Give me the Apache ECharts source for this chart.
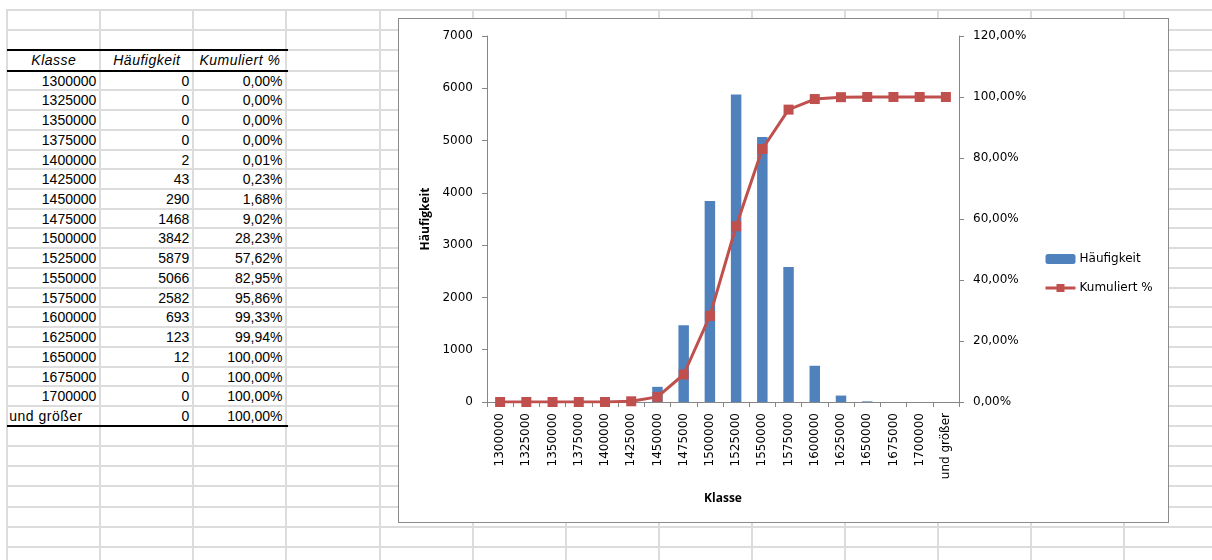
<!DOCTYPE html>
<html>
<head>
<meta charset="utf-8">
<title>Häufigkeitsverteilung</title>
<script src="https://cdn.jsdelivr.net/npm/echarts@6/dist/echarts.min.js"></script>
<style>
  html, body { margin: 0; padding: 0; background: #fff; }
  body { width: 1212px; height: 560px; overflow: hidden; position: relative; }
  #sheet { position: absolute; left: 0; top: 0; width: 1212px; height: 560px; }
  .hl { position: absolute; height: 2px; background: #dcdcdc; }
  .vl { position: absolute; width: 2px; background: #dcdcdc; }
  .thick { position: absolute; height: 2px; background: #000; }
  .cell { position: absolute; font-family: "Liberation Sans", Arial, sans-serif; font-size: 14px;
          color: #000; white-space: nowrap; box-sizing: border-box; }
  .head { font-style: italic; text-align: center; letter-spacing: 0.5px; }
  #chart { position: absolute; left: 398px; top: 18px; width: 769px; height: 503px;
           border: 1px solid #8a8a8a; background: #fff; }
</style>
</head>
<body>
<div id="sheet"></div>
<div id="chart"></div>
<script>
// Klassen, Häufigkeiten und kumulierte Anteile (in %)
const klassen = ['1300000', '1325000', '1350000', '1375000', '1400000', '1425000', '1450000',
  '1475000', '1500000', '1525000', '1550000', '1575000', '1600000', '1625000', '1650000',
  '1675000', '1700000', 'und größer'];
const haeufigkeit = [0, 0, 0, 0, 2, 43, 290, 1468, 3842, 5879, 5066, 2582, 693, 123, 12, 0, 0, 0];
const kumuliert = [0, 0, 0, 0, 0.01, 0.23, 1.68, 9.02, 28.23, 57.62, 82.95, 95.86, 99.33, 99.94,
  100, 100, 100, 100];
const kopfzeile = ['Klasse', 'Häufigkeit', 'Kumuliert %'];

// Achsenbereiche
const achseLinks = { min: 0, max: 7000, interval: 1000 };
const achseRechts = { min: 0, max: 120, interval: 20 };

const prozent = v => v.toFixed(2).replace('.', ',') + '%';

// --- Tabellenblatt: Gitterlinien ---
const sheet = document.getElementById('sheet');
function add(cls, css, text) {
  const d = document.createElement('div');
  d.className = cls;
  Object.assign(d.style, css);
  if (text !== undefined) d.textContent = text;
  sheet.appendChild(d);
  return d;
}
const colW = 93.05, col0 = 7.3;
const colX = [];
for (let k = 0; k < 14; k++) colX.push(col0 + k * colW);
const rowY = [10, 30, 50];
for (let j = 0; j <= 18; j++) rowY.push(70.6 + j * 19.73);
for (let j = 1; j <= 7; j++) rowY.push(425.7 + j * 20.2);

rowY.forEach(y => add('hl', { left: '6px', top: (Math.round(y) - 1) + 'px', width: '1206px' }));
colX.forEach(x => add('vl', { left: (Math.round(x) - 1) + 'px', top: '9px', height: '551px' }));

// --- Tabelle ---
const headTop = rowY[2], headH = rowY[3] - rowY[2];
kopfzeile.forEach((t, i) => {
  add('cell head', { left: colX[i] + 'px', width: colW + 'px', top: headTop + 'px',
    height: headH + 'px', lineHeight: (headH + 1) + 'px' }, t);
});
klassen.forEach((k, r) => {
  const top = rowY[3 + r], h = rowY[4 + r] - rowY[3 + r];
  const base = { top: top + 'px', height: h + 'px', lineHeight: (h + 2) + 'px' };
  const istText = isNaN(Number(k));
  add('cell', Object.assign({ left: colX[0] + 'px', width: colW + 'px',
    textAlign: istText ? 'left' : 'right', padding: istText ? '0 0 0 2px' : '0 4px 0 0',
    letterSpacing: istText ? '0.5px' : '0' }, base), k);
  add('cell', Object.assign({ left: colX[1] + 'px', width: colW + 'px', textAlign: 'right',
    padding: '0 4px 0 0' }, base), String(haeufigkeit[r]));
  add('cell', Object.assign({ left: colX[2] + 'px', width: colW + 'px', textAlign: 'right',
    padding: '0 4px 0 0' }, base), prozent(kumuliert[r]));
});
add('thick', { left: '7px', top: '49px', width: '281px' });
add('thick', { left: '7px', top: '70px', width: '281px' });
add('thick', { left: '7px', top: '425px', width: '281px' });

// --- Diagramm ---
const achsenGrau = '#868686';
const titelStil = { fontFamily: 'Open Sans', fontWeight: 'bold', fontSize: 12, color: '#000' };
const labelStil = { fontFamily: 'DejaVu Sans', fontSize: 12, color: '#000' };

const chart = echarts.init(document.getElementById('chart'), null, { renderer: 'canvas' });
chart.setOption({
  animation: false,
  textStyle: { fontFamily: 'DejaVu Sans' },
  grid: { left: 88, top: 17, width: 472, height: 366, containLabel: false },
  legend: {
    orient: 'vertical', left: 640, top: 229,
    itemWidth: 30, itemHeight: 10, itemGap: 17,
    textStyle: Object.assign({}, labelStil, { padding: [0, 0, 0, -1] }),
    data: [
      { name: 'Häufigkeit' },
      { name: 'Kumuliert %', lineStyle: { width: 3 }, itemStyle: { color: '#C0504D' } }
    ]
  },
  xAxis: {
    type: 'category', data: klassen, boundaryGap: true,
    name: 'Klasse', nameLocation: 'middle', nameGap: 91, nameTextStyle: titelStil,
    axisLine: { show: true, lineStyle: { color: achsenGrau, width: 1 } },
    axisTick: { show: true, length: 5, interval: 0, lineStyle: { color: achsenGrau } },
    axisLabel: Object.assign({ rotate: 90, margin: 11, interval: 0 }, labelStil),
    splitLine: { show: false }
  },
  yAxis: [
    {
      type: 'value', min: achseLinks.min, max: achseLinks.max, interval: achseLinks.interval,
      name: 'Häufigkeit', nameLocation: 'middle', nameGap: 40, nameRotate: 90,
      nameTextStyle: titelStil,
      axisLine: { show: true, lineStyle: { color: achsenGrau, width: 1 } },
      axisTick: { show: true, length: 5, lineStyle: { color: achsenGrau } },
      axisLabel: Object.assign({ margin: 14, formatter: v => String(v) }, labelStil),
      splitLine: { show: false }
    },
    {
      type: 'value', position: 'right',
      min: achseRechts.min, max: achseRechts.max, interval: achseRechts.interval,
      axisLine: { show: true, lineStyle: { color: achsenGrau, width: 1 } },
      axisTick: { show: true, length: 5, lineStyle: { color: achsenGrau } },
      axisLabel: Object.assign({ margin: 14, formatter: prozent }, labelStil),
      splitLine: { show: false }
    }
  ],
  series: [
    {
      name: 'Häufigkeit', type: 'bar', data: haeufigkeit, barWidth: '40%',
      itemStyle: { color: '#4F81BD' }
    },
    {
      name: 'Kumuliert %', type: 'line', yAxisIndex: 1, data: kumuliert,
      symbol: 'rect', symbolSize: 10, showAllSymbol: true,
      lineStyle: { color: '#C0504D', width: 3 },
      itemStyle: { color: '#C0504D' }
    }
  ]
});
</script>
</body>
</html>
